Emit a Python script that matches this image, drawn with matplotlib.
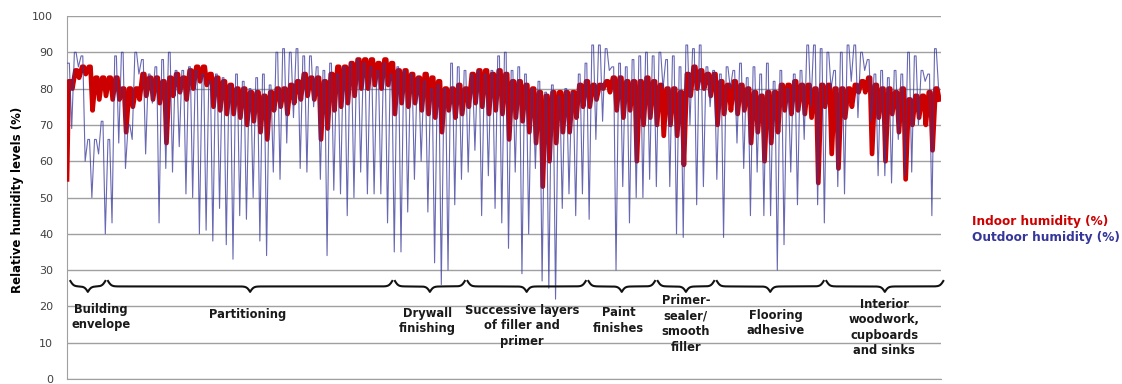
import numpy as np
import matplotlib.pyplot as plt

days = np.arange(130)

# daily outdoor relative humidity (%): plateau value and the daily dip
outdoor_high = [87, 90, 89, 66, 66, 71, 66, 89, 90, 70,
                90, 88, 84, 86, 88, 90, 85, 85, 86, 85,
                84, 82, 84, 83, 81, 84, 82, 80, 83, 84,
                81, 90, 91, 90, 91, 89, 89, 86, 85, 87,
                84, 86, 87, 88, 87, 86, 85, 87, 84, 86,
                85, 84, 83, 82, 80, 81, 80, 87, 86, 85,
                84, 85, 84, 85, 89, 90, 85, 86, 84, 80,
                82, 79, 81, 78, 80, 79, 84, 87, 92, 92,
                91, 86, 87, 86, 88, 89, 90, 89, 90, 88,
                89, 86, 92, 91, 92, 86, 85, 84, 86, 85,
                87, 83, 86, 84, 87, 82, 85, 80, 84, 85,
                92, 92, 91, 90, 85, 90, 92, 92, 90, 88,
                84, 85, 83, 85, 84, 90, 89, 85, 84, 91]
outdoor_low = [69, 86, 60, 50, 62, 40, 43, 65, 58, 66,
               84, 62, 76, 43, 58, 57, 64, 51, 50, 40,
               41, 38, 47, 37, 33, 45, 44, 50, 38, 34,
               57, 55, 65, 72, 58, 57, 75, 55, 34, 52,
               51, 45, 50, 57, 51, 51, 51, 43, 35, 35,
               46, 55, 60, 46, 32, 26, 30, 48, 55, 57,
               63, 45, 56, 47, 43, 36, 57, 29, 40, 58,
               27, 25, 22, 47, 51, 45, 51, 44, 66, 71,
               85, 30, 53, 43, 50, 50, 55, 53, 80, 53,
               40, 39, 70, 48, 53, 75, 55, 39, 80, 65,
               58, 45, 57, 45, 45, 30, 37, 57, 48, 66,
               75, 48, 43, 80, 53, 51, 82, 72, 85, 71,
               56, 56, 54, 66, 56, 57, 70, 82, 45, 80]

# daily indoor relative humidity (%)
indoor_start = 55
indoor_high = [82, 85, 86, 86, 83, 83, 83, 83, 80, 80,
               80, 84, 83, 83, 82, 83, 84, 83, 85, 86,
               86, 84, 83, 82, 81, 80, 80, 79, 79, 78,
               79, 80, 80, 81, 82, 84, 83, 83, 82, 84,
               86, 86, 87, 88, 88, 88, 87, 88, 87, 85,
               85, 84, 83, 84, 83, 82, 80, 80, 81, 80,
               84, 85, 85, 84, 85, 84, 82, 82, 81, 80,
               79, 78, 79, 79, 79, 79, 81, 82, 81, 81,
               82, 83, 83, 82, 82, 82, 83, 82, 81, 80,
               80, 79, 84, 86, 85, 84, 84, 82, 81, 82,
               81, 80, 79, 78, 79, 79, 81, 81, 82, 81,
               81, 80, 81, 81, 80, 80, 80, 81, 82, 83,
               81, 80, 80, 79, 80, 77, 78, 78, 79, 80]
indoor_low = [80, 83, 84, 74, 77, 78, 77, 77, 68, 75,
              77, 78, 77, 76, 65, 78, 79, 77, 80, 82,
              81, 75, 74, 73, 73, 72, 70, 71, 68, 66,
              74, 75, 73, 76, 77, 78, 77, 66, 69, 74,
              75, 76, 78, 80, 80, 81, 80, 81, 73, 76,
              75, 76, 74, 73, 72, 68, 74, 72, 73, 75,
              76, 75, 73, 74, 73, 66, 72, 71, 68, 65,
              53, 60, 65, 68, 68, 72, 75, 75, 77, 80,
              79, 74, 72, 74, 60, 70, 72, 70, 67, 70,
              67, 59, 78, 80, 80, 78, 70, 73, 74, 73,
              74, 65, 68, 60, 65, 68, 74, 73, 74, 73,
              72, 54, 75, 62, 58, 72, 75, 79, 79, 62,
              72, 60, 73, 68, 55, 70, 72, 70, 63, 77]

# construction phases (in days)
phase_labels = ['Building\nenvelope', 'Partitioning', 'Drywall\nfinishing',
                'Successive layers\nof filler and\nprimer', 'Paint\nfinishes',
                'Primer-\nsealer/\nsmooth\nfiller', 'Flooring\nadhesive',
                'Interior\nwoodwork,\ncupboards\nand sinks']
phase_edges = [0.3, 5.9, 48.6, 59.4, 77.4, 87.7, 96.5, 112.8, 130.6]
label_x = [5.0, 26.9, 53.6, 67.7, 82.1, 92.1, 105.5, 121.6]
label_top = [21.0, 19.6, 19.9, 20.7, 20.1, 23.3, 19.3, 22.4]

t_out = (days[:, None] + np.array([0.1, 0.35, 0.7])).ravel()
v_out = np.column_stack([outdoor_high, outdoor_high, outdoor_low]).ravel()
t_in = np.concatenate([[0.0], (days[:, None] + np.array([0.25, 0.5, 0.8])).ravel()])
v_in = np.concatenate([[indoor_start],
                       np.column_stack([indoor_high, indoor_high, indoor_low]).ravel()])

fig = plt.figure(figsize=(11.22, 3.84), dpi=100)
ax = fig.add_axes([67 / 1122, 1 - 379 / 384, 873.6 / 1122, 363 / 384])

ax.plot(t_in, v_in, color='#CC0000', lw=3.4, solid_joinstyle='round', zorder=3)
ax.plot(t_out, v_out, color='#35359A', lw=0.8, alpha=0.75, zorder=4)


def brace(x0, x1, top, depth):
    n = 201
    xs = np.linspace(x0, x1, n)
    half = xs[:n // 2 + 1]
    beta = 4.0
    yb = 1 / (1 + np.exp(-beta * (half - half[0]))) + 1 / (1 + np.exp(-beta * (half - half[-1])))
    yb = np.concatenate([yb, yb[-2::-1]])
    ax.plot(xs, top - depth * (yb - 0.5), color='#111111', lw=1.5,
            clip_on=False, zorder=5)


for i, lab in enumerate(phase_labels):
    brace(phase_edges[i] + 0.2, phase_edges[i + 1] - 0.2, 27, 3)
    ax.text(label_x[i], label_top[i], lab, ha='center', va='top', fontsize=8.3,
            fontweight='bold', color='#1a1a1a', linespacing=1.25, zorder=5)

ax.set_xlim(0, 130)
ax.set_ylim(0, 100)
ax.set_yticks(range(0, 101, 10))
ax.set_xticks([])
ax.tick_params(axis='y', length=0, pad=10, labelsize=8, labelcolor='#404040')
ax.grid(axis='y', color='#A0A0A0', lw=1.0)
ax.set_axisbelow(True)
for s in ['top', 'right']:
    ax.spines[s].set_visible(False)
ax.spines['left'].set_color('#A0A0A0')
ax.spines['bottom'].set_color('#A0A0A0')

ax.set_ylabel('Relative humidity levels (%)', fontsize=8.5, fontweight='bold')
ax.yaxis.set_label_coords(-0.049, 0.493)

fig.text(972 / 1122, 1 - 222 / 384, 'Indoor humidity (%)', color='#CC0000',
         fontsize=8.7, fontweight='bold', va='center')
fig.text(972 / 1122, 1 - 237 / 384, 'Outdoor humidity (%)', color='#35359A',
         fontsize=8.7, fontweight='bold', va='center')

fig.savefig('out.png', dpi=100)
